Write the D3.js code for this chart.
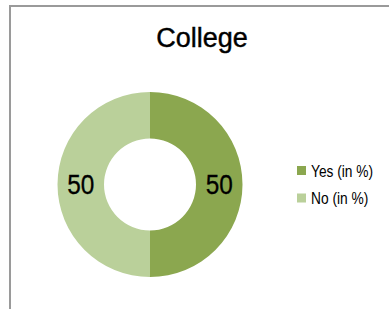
<!DOCTYPE html>
<html>
<head>
<meta charset="utf-8">
<script src="https://cdn.jsdelivr.net/npm/d3@7"></script>
<style>
  body { margin: 0; background: #fff; }
  svg { display: block; font-family: "Liberation Sans", Arial, sans-serif; }
</style>
</head>
<body>
<svg id="chart" width="389" height="309"></svg>
<script>
// Data
const title = "College";
const categories = ["Yes (in %)", "No (in %)"];
const values = [50, 50];
const colors = ["#8ba74f", "#bad09a"];

const svg = d3.select("#chart");

// Chart frame (cropped on right and bottom)
svg.append("rect")
  .attr("x", 10).attr("y", 6)
  .attr("width", 420).attr("height", 340)
  .attr("fill", "none")
  .attr("stroke", "#9a9a9a")
  .attr("stroke-width", 2);

// Title
svg.append("text")
  .attr("x", 202).attr("y", 47)
  .attr("text-anchor", "middle")
  .style("font-size", "27px")
  .attr("stroke", "#000")
  .attr("stroke-width", 0.4)
  .text(title);

// Donut
const cx = 150, cy = 184.5;
const outer = 92.5, inner = 46;

const data = categories.map((c, i) => ({ name: c, value: values[i] }));
const pie = d3.pie().sort(null).value(d => d.value);
const arc = d3.arc().innerRadius(inner).outerRadius(outer);
const color = d3.scaleOrdinal().domain(categories).range(colors);

const g = svg.append("g").attr("transform", `translate(${cx},${cy})`);

g.selectAll("path")
  .data(pie(data))
  .enter().append("path")
    .attr("d", arc)
    .attr("fill", d => color(d.data.name));

// narrow-looking labels: squeeze horizontally
g.selectAll("text")
  .data(pie(data))
  .enter().append("text")
    .attr("transform", d => `translate(${arc.centroid(d)}) scale(0.87,1)`)
    .attr("dy", "0.35em")
    .attr("text-anchor", "middle")
    .style("font-size", "28px")
    .attr("stroke", "#000")
    .attr("stroke-width", 0.3)
    .text(d => d.data.value);

// Legend
const legend = svg.append("g").attr("transform", "translate(297,166)");
const item = legend.selectAll("g")
  .data(categories)
  .enter().append("g")
    .attr("transform", (d, i) => `translate(0,${i * 27.5})`);

item.append("rect")
  .attr("width", 9).attr("height", 9)
  .attr("fill", d => color(d));

item.append("text")
  .attr("transform", "translate(14,10.5) scale(0.86,1)")
  .style("font-size", "16px")
  .text(d => d);
</script>
</body>
</html>
